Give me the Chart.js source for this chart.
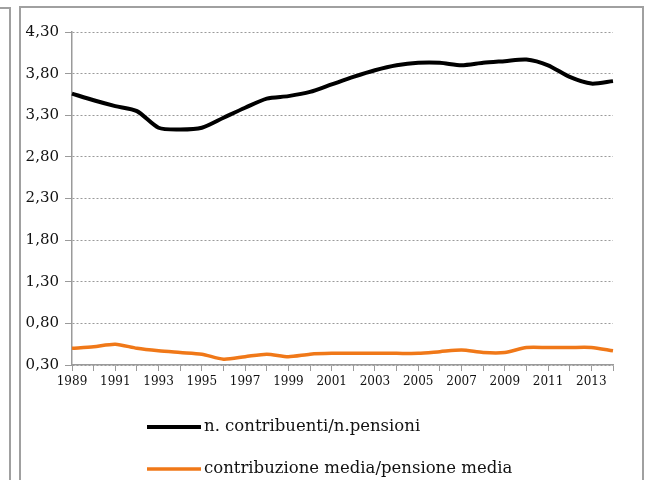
<!DOCTYPE html>
<html>
<head>
<meta charset="utf-8">
<script src="https://cdn.jsdelivr.net/npm/chart.js@4/dist/chart.umd.min.js"></script>
<style>
  html, body { margin: 0; padding: 0; background: #fff; }
  #wrap { width: 645px; height: 480px; }
</style>
</head>
<body>
<div id="wrap"><canvas id="chart" width="645" height="480"></canvas></div>
<script>
// dati
const anni = ['1989','1990','1991','1992','1993','1994','1995','1996','1997','1998','1999','2000','2001',
              '2002','2003','2004','2005','2006','2007','2008','2009','2010','2011','2012','2013','2014'];
const contribuentiPensioni = [3.56, 3.48, 3.41, 3.35, 3.15, 3.13, 3.15, 3.27, 3.39, 3.50, 3.53, 3.58, 3.67,
                              3.76, 3.84, 3.90, 3.93, 3.93, 3.90, 3.93, 3.95, 3.97, 3.90, 3.76, 3.68, 3.71];
const contribuzionePensione = [0.50, 0.52, 0.55, 0.50, 0.47, 0.45, 0.43, 0.37, 0.40, 0.43, 0.40, 0.43, 0.44,
                               0.44, 0.44, 0.44, 0.44, 0.46, 0.48, 0.45, 0.45, 0.51, 0.51, 0.51, 0.51, 0.47];
const etichette = ['n. contribuenti/n.pensioni', 'contribuzione media/pensione media'];
const colori = ['#000000', '#f07818'];

const FONT = "'DejaVu Serif', serif";
const GRIGIO = '#9a9a9a';

// cornici e legenda disegnate a mano
const cornice = {
    id: 'cornice',
    beforeDraw(chart) {
        const ctx = chart.ctx;
        ctx.save();
        ctx.fillStyle = '#fff';
        ctx.fillRect(0, 0, chart.width, chart.height);
        ctx.strokeStyle = '#a0a0a0';
        ctx.lineWidth = 2;
        ctx.beginPath();
        ctx.moveTo(0, 8); ctx.lineTo(10, 8); ctx.lineTo(10, 482);
        ctx.moveTo(20, 482); ctx.lineTo(20, 7); ctx.lineTo(643, 7); ctx.lineTo(643, 482);
        ctx.stroke();
        ctx.restore();
    }
};

const legenda = {
    id: 'legenda',
    afterDraw(chart) {
        const ctx = chart.ctx;
        const righe = [427, 469];
        ctx.save();
        chart.data.datasets.forEach((ds, i) => {
            const y = righe[i];
            ctx.strokeStyle = ds.borderColor;
            ctx.lineWidth = ds.borderWidth;
            ctx.beginPath();
            ctx.moveTo(147, y); ctx.lineTo(201, y);
            ctx.stroke();
            ctx.fillStyle = '#111';
            ctx.font = '16.5px ' + FONT;
            ctx.textBaseline = 'middle';
            ctx.fillText(ds.label, 204, y);
        });
        ctx.restore();
    }
};

new Chart(document.getElementById('chart'), {
    type: 'line',
    data: {
        labels: anni,
        datasets: [
            { label: etichette[0], data: contribuentiPensioni, borderColor: colori[0], borderWidth: 4, pointRadius: 0, tension: 0.25 },
            { label: etichette[1], data: contribuzionePensione, borderColor: colori[1], borderWidth: 3.5, pointRadius: 0, tension: 0.25 }
        ]
    },
    options: {
        responsive: false,
        animation: false,
        events: [],
        layout: { padding: { left: 20, top: 32, right: 32, bottom: 95 } },
        plugins: { legend: { display: false }, tooltip: { enabled: false } },
        scales: {
            x: {
                type: 'category',
                offset: false,
                grid: { drawOnChartArea: false, drawTicks: true, tickLength: 6, color: GRIGIO, tickColor: GRIGIO },
                border: { display: true, color: GRIGIO, width: 1.5 },
                ticks: {
                    autoSkip: false, maxRotation: 0, padding: 4, color: '#111',
                    font: { family: FONT, size: 12 },
                    callback: (v, i) => i % 2 === 0 ? anni[i] : ''
                },
                afterFit: s => { s.height = 20; }
            },
            y: {
                min: 0.3, max: 4.3,
                grid: { drawOnChartArea: true, drawTicks: true, tickLength: 7, color: GRIGIO, tickColor: GRIGIO, lineWidth: 1 },
                border: { display: true, color: GRIGIO, width: 1.5, dash: [2, 2] },
                ticks: {
                    stepSize: 0.5, padding: 6, color: '#111',
                    font: { family: FONT, size: 15 },
                    callback: v => v.toFixed(2).replace('.', ',')
                },
                afterFit: s => { s.width = 52; }
            }
        }
    },
    plugins: [cornice, legenda]
});
</script>
</body>
</html>
